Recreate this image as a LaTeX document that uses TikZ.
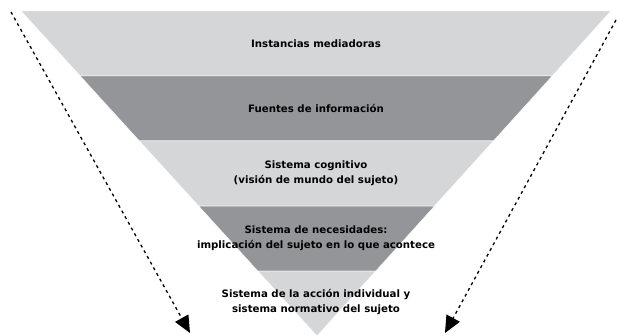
\documentclass[tikz,border=0pt]{standalone}
\usepackage{fontspec}
\setmainfont{DejaVu Sans}
\usepackage{xcolor}
\usetikzlibrary{calc,arrows.meta}
\definecolor{lightband}{HTML}{D5D6D8}
\definecolor{darkband}{HTML}{939598}

\begin{document}
\begin{tikzpicture}[x=1pt, y=-1pt,
    band/.style={draw=white, line width=0.5pt},
    level/.style={align=center, font=\bfseries\fontsize{10.2}{15}\selectfont},
    flow/.style={-{Triangle[length=17pt,width=15pt]}, dash pattern=on 3pt off 3.5pt, line width=1.3pt}
]
    \useasboundingbox (0,0) rectangle (617,334);

    % Funnel corners
    \coordinate (TL) at (21,11);
    \coordinate (TR) at (611,11);
    \coordinate (Apex) at (317,336);
    \coordinate (L1) at ($(TL)!0.2!(Apex)$);
    \coordinate (R1) at ($(TR)!0.2!(Apex)$);
    \coordinate (L2) at ($(TL)!0.4!(Apex)$);
    \coordinate (R2) at ($(TR)!0.4!(Apex)$);
    \coordinate (L3) at ($(TL)!0.6!(Apex)$);
    \coordinate (R3) at ($(TR)!0.6!(Apex)$);
    \coordinate (L4) at ($(TL)!0.8!(Apex)$);
    \coordinate (R4) at ($(TR)!0.8!(Apex)$);

    % Bands
    \fill[lightband, band] (TL) -- (TR) -- (R1) -- (L1) -- cycle;
    \fill[darkband, band] (L1) -- (R1) -- (R2) -- (L2) -- cycle;
    \fill[lightband, band] (L2) -- (R2) -- (R3) -- (L3) -- cycle;
    \fill[darkband, band] (L3) -- (R3) -- (R4) -- (L4) -- cycle;
    \fill[lightband, band] (L4) -- (R4) -- (Apex) -- cycle;

    % Levels
    \node[level] (Mediadoras) at (316,43.5) {Instancias mediadoras};
    \node[level] (Fuentes) at (316,108.5) {Fuentes de información};
    \node[level] (Cognitivo) at (316,173.5) {Sistema cognitivo\\(visión de mundo del sujeto)};
    \node[level] (Necesidades) at (316,238.5) {Sistema de necesidades:\\implicación del sujeto en lo que acontece};
    \node[level] (Accion) at (316,302) {Sistema de la acción individual y\\sistema normativo del sujeto};

    % Arrows
    \coordinate (LeftStart) at (11,12);
    \coordinate (LeftEnd) at (190,333);
    \coordinate (RightStart) at (616,20);
    \coordinate (RightEnd) at (445,333);
    \draw[flow] (LeftStart) -- (LeftEnd);
    \draw[flow] (RightStart) -- (RightEnd);

\end{tikzpicture}
\end{document}
